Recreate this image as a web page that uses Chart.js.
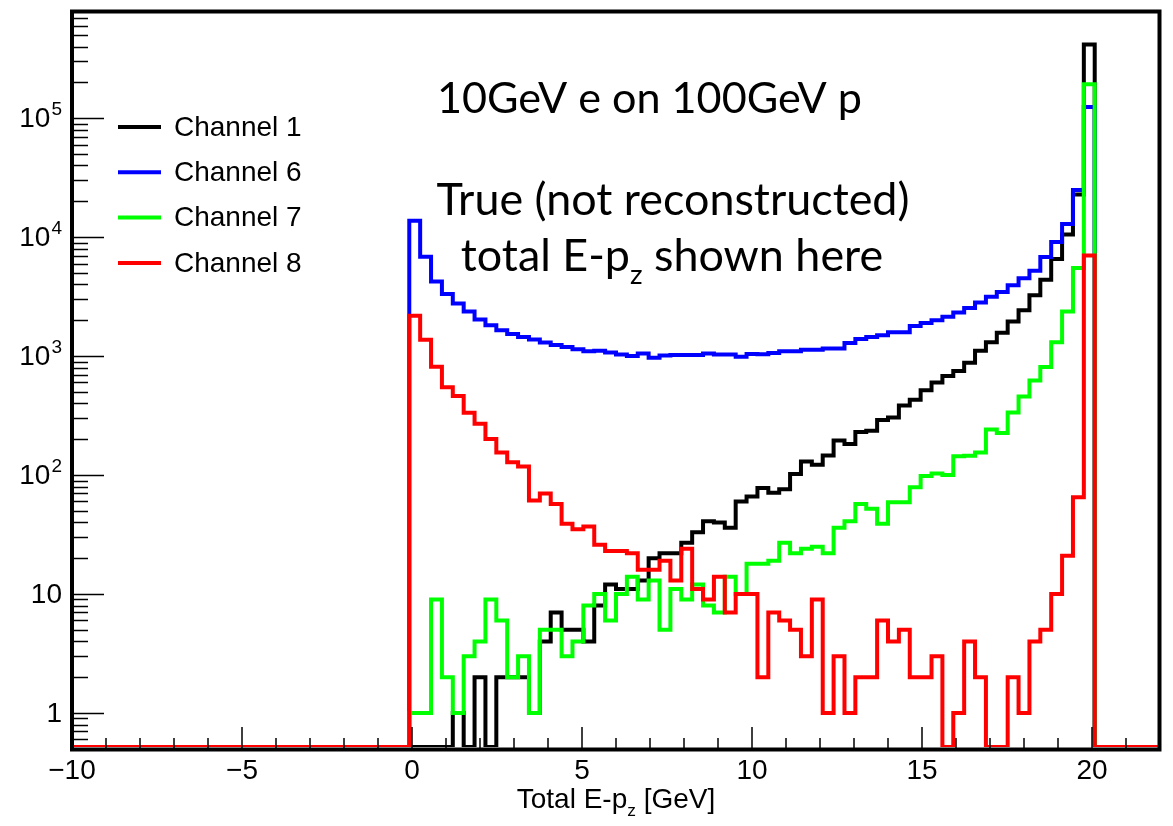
<!DOCTYPE html>
<html>
<head>
<meta charset="utf-8">
<title>Total E-pz</title>
<script src="https://cdn.jsdelivr.net/npm/chart.js@4.4.1/dist/chart.umd.min.js"></script>
<style>
  html, body { margin: 0; padding: 0; background: #fff; }
  #wrap { width: 1173px; height: 826px; position: relative; }
</style>
</head>
<body>
<div id="wrap"><canvas id="epzChart"></canvas></div>
<script>
// histogram binning: 100 bins from -10 to 22 GeV (0.32 GeV each)
const X_MIN = -10;
const X_MAX = 22;
const N_BINS = 100;
// bin 31 (starting at -0.08 GeV) is the first filled one
const FIRST_BIN = 31;

// log axis range, same as the ROOT frame
const Y_MIN = 0.518;
const Y_MAX = 7.8e5;

const channelLabels = ['Channel 1', 'Channel 6', 'Channel 7', 'Channel 8'];
const channelColors = ['#000000', '#0000ff', '#00ff00', '#ff0000'];

// entries per bin, from FIRST_BIN on (bins not listed are empty)
const channel1 = [
    0, 0, 0, 0, 1, 0, 2, 0, 2, 2,
    2, 1, 4, 7, 5, 5, 4, 8, 12, 11,
    11, 13, 20, 22, 22, 27, 33, 41, 40, 36,
    60, 66, 78, 71, 76, 102, 130, 122, 146, 195,
    182, 230, 236, 290, 305, 385, 430, 515, 600, 680,
    750, 880, 1110, 1310, 1570, 1950, 2430, 3250, 4380, 6560,
    10500, 22800, 415000
];
const channel6 = [
    13700, 6850, 4240, 3330, 2770, 2375, 2030, 1815, 1645, 1530,
    1450, 1380, 1300, 1240, 1190, 1140, 1100, 1110, 1070, 1030,
    1000, 1050, 970, 1010, 1020, 1020, 1020, 1050, 1030, 1030,
    985, 1040, 1035, 1060, 1100, 1100, 1130, 1130, 1160, 1160,
    1290, 1390, 1450, 1500, 1590, 1590, 1790, 1900, 2000, 2140,
    2330, 2540, 2820, 3160, 3450, 3940, 4500, 5220, 6800, 9080,
    12900, 24900, 124000
];
const channel7 = [
    1, 1, 9, 2, 1, 3, 4, 9, 6, 2,
    3, 1, 5, 5, 3, 4, 8, 10, 6, 10,
    14, 9, 13, 5, 11, 9, 12, 8, 7, 14,
    10, 18, 18, 19, 27, 22, 24, 25, 22, 36,
    41, 57, 52, 39, 59, 59, 79, 98, 103, 100,
    144, 145, 155, 241, 226, 336, 458, 622, 810, 1310,
    2370, 5500, 193000
];
const channel8 = [
    2180, 1370, 813, 547, 462, 334, 270, 201, 155, 128,
    118, 61, 70, 57, 39, 35, 37, 26, 23, 23,
    22, 16, 16, 19, 13, 24, 11, 9, 14, 7,
    10, 10, 2, 7, 6, 5, 3, 9, 1, 3,
    1, 2, 2, 6, 4, 5, 2, 2, 3, 0,
    1, 4, 2, 0, 0, 2, 1, 4, 5, 10,
    21, 65, 7000
];

const xTickValues = [-10, -5, 0, 5, 10, 15, 20];
const yTickValues = [1, 10, 100, 1000, 10000, 100000];

const AXIS_FONT = '"Liberation Sans", Arial, sans-serif';
const NOTE_FONT = 'Lato, "Open Sans", sans-serif';

// turn bin contents into a stepped outline; empty bins sit on the frame bottom like in ROOT
function histPoints(counts) {
    const width = (X_MAX - X_MIN) / N_BINS;
    const pts = [];
    for (let b = 0; b < N_BINS; b++) {
        const c = counts[b - FIRST_BIN] || 0;
        pts.push({ x: X_MIN + b * width, y: c > 0 ? c : Y_MIN });
    }
    pts.push({ x: X_MAX, y: pts[pts.length - 1].y });
    return pts;
}

// font size that makes text span the given width
function fitSize(ctx, family, text, targetWidth) {
    ctx.font = '100px ' + family;
    return 100 * targetWidth / ctx.measureText(text).width;
}

function drawWithSub(ctx, family, size, parts, x, baseline, align) {
    // parts: [normal, subscript, normal]
    const subSize = size * 0.62;
    ctx.font = size + 'px ' + family;
    const w0 = ctx.measureText(parts[0]).width;
    const w2 = ctx.measureText(parts[2]).width;
    ctx.font = subSize + 'px ' + family;
    const w1 = ctx.measureText(parts[1]).width;
    const total = w0 + w1 + w2;
    let left = x;
    if (align === 'center') left = x - total / 2;
    ctx.textAlign = 'left';
    ctx.textBaseline = 'alphabetic';
    ctx.font = size + 'px ' + family;
    ctx.fillText(parts[0], left, baseline);
    ctx.font = subSize + 'px ' + family;
    ctx.fillText(parts[1], left + w0, baseline + size * 0.28);
    ctx.font = size + 'px ' + family;
    ctx.fillText(parts[2], left + w0 + w1, baseline);
    return total;
}

const rootStyle = {
    id: 'rootStyle',
    afterDraw(chart) {
        const ctx = chart.ctx;
        const area = chart.chartArea;
        const xs = chart.scales.x;
        const ys = chart.scales.y;
        ctx.save();

        // ticks, drawn inside the frame
        ctx.strokeStyle = '#000';
        ctx.lineWidth = 1.5;
        ctx.beginPath();
        for (let v = X_MIN + 1; v < X_MAX; v++) {
            const px = xs.getPixelForValue(v);
            const len = v % 5 === 0 ? 22 : 11;
            ctx.moveTo(px, area.bottom + 2);
            ctx.lineTo(px, area.bottom + 2 - len);
        }
        for (let d = -1; d <= 5; d++) {
            for (let m = 1; m <= 9; m++) {
                const v = m * Math.pow(10, d);
                if (v < Y_MIN || v > Y_MAX) continue;
                const py = Math.round(ys.getPixelForValue(v)) + 0.5;
                const len = m === 1 ? 32 : 16;
                ctx.moveTo(area.left, py);
                ctx.lineTo(area.left + len, py);
            }
        }
        ctx.stroke();

        // frame
        ctx.lineWidth = 4;
        ctx.strokeRect(area.left, area.top - 0.5, area.right - area.left - 0.5, area.bottom - area.top + 3);

        ctx.fillStyle = '#000';

        // x tick labels
        ctx.font = '28px ' + AXIS_FONT;
        ctx.textAlign = 'center';
        ctx.textBaseline = 'top';
        xTickValues.forEach(v => {
            const label = v < 0 ? '\u2212' + Math.abs(v) : String(v);
            ctx.fillText(label, xs.getPixelForValue(v), 757);
        });

        // y tick labels with powers of ten
        const labelRight = area.left - 10;
        yTickValues.forEach(v => {
            const py = ys.getPixelForValue(v);
            const exp = Math.round(Math.log10(v));
            ctx.textBaseline = 'middle';
            ctx.textAlign = 'right';
            if (exp < 2) {
                ctx.font = '28px ' + AXIS_FONT;
                ctx.fillText(exp === 0 ? '1' : '10', labelRight, py + 1);
            } else {
                ctx.font = '19px ' + AXIS_FONT;
                const supW = ctx.measureText(String(exp)).width;
                ctx.fillText(String(exp), labelRight, py - 8);
                ctx.font = '28px ' + AXIS_FONT;
                ctx.fillText('10', labelRight - supW - 1, py + 1);
            }
        });

        // axis title, centred on the axis
        ctx.fillStyle = '#000';
        drawWithSub(ctx, AXIS_FONT, 28, ['Total E-p', 'z', ' [GeV]'],
            (area.left + area.right) / 2, 808, 'center');

        // legend
        chart.data.datasets.forEach((ds, i) => {
            const y = 127 + 45.3 * i;
            ctx.strokeStyle = ds.borderColor;
            ctx.lineWidth = 4;
            ctx.beginPath();
            ctx.moveTo(118, y);
            ctx.lineTo(161, y);
            ctx.stroke();
            ctx.fillStyle = '#000';
            ctx.font = '28px ' + AXIS_FONT;
            ctx.textAlign = 'left';
            ctx.textBaseline = 'middle';
            ctx.fillText(ds.label, 174, y + 1);
        });

        // notes
        const line1 = '10GeV e on 100GeV p';
        const line2 = 'True (not reconstructed)';
        const s1 = fitSize(ctx, NOTE_FONT, line1, 425);
        const s2 = fitSize(ctx, NOTE_FONT, line2, 473);
        ctx.fillStyle = '#000';
        ctx.textBaseline = 'alphabetic';
        ctx.textAlign = 'left';
        ctx.font = s1 + 'px ' + NOTE_FONT;
        ctx.fillText(line1, 437, 113);
        ctx.textAlign = 'center';
        ctx.font = s2 + 'px ' + NOTE_FONT;
        ctx.fillText(line2, 673, 215);
        drawWithSub(ctx, NOTE_FONT, s2, ['total E-p', 'z', ' shown here'], 672, 271, 'center');

        ctx.restore();
    }
};

const datasets = [channel1, channel6, channel7, channel8].map((counts, i) => ({
    label: channelLabels[i],
    data: histPoints(counts),
    borderColor: channelColors[i],
    backgroundColor: channelColors[i],
    borderWidth: 4,
    pointRadius: 0,
    stepped: true,
    fill: false,
    tension: 0,
    borderJoinStyle: 'miter',
    // Channel 8 on top, Channel 1 at the back
    order: 3 - i
}));

new Chart(document.getElementById('epzChart'), {
    type: 'line',
    data: { datasets: datasets },
    options: {
        responsive: true,
        maintainAspectRatio: false,
        animation: false,
        layout: { padding: { left: 72, right: 13, top: 12, bottom: 79 } },
        scales: {
            x: { type: 'linear', min: X_MIN, max: X_MAX, display: false },
            y: { type: 'logarithmic', min: Y_MIN, max: Y_MAX, display: false }
        },
        plugins: {
            legend: { display: false },
            tooltip: { enabled: false }
        }
    },
    plugins: [rootStyle]
});
</script>
</body>
</html>
